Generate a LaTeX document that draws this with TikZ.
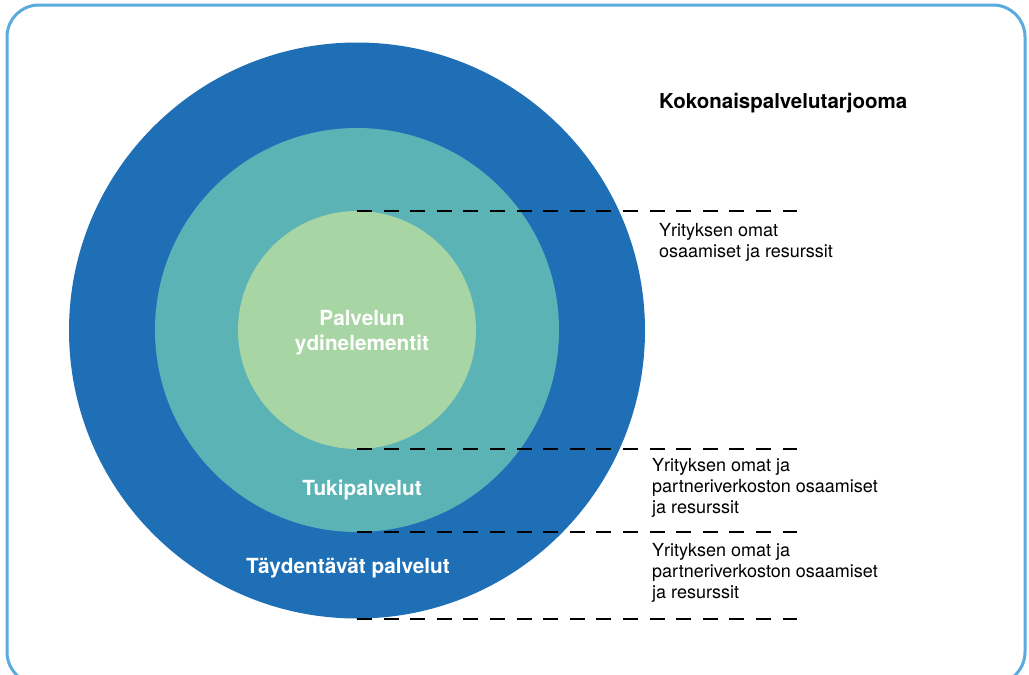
\documentclass[tikz,border=0pt]{standalone}
\usepackage{fontspec}
\setmainfont{TeX Gyre Heros}
\begin{document}
\begin{tikzpicture}[x=1pt,y=-1pt,
  ring/.style={circle,draw=none,inner sep=0pt},
  ringlabel/.style={text=white,font=\bfseries\fontsize{20.8}{25}\selectfont,align=center,anchor=base},
  sidelabel/.style={font=\fontsize{18}{20.6}\selectfont,align=left,anchor=base west,inner sep=0pt},
  guide/.style={black,line width=2.2pt,dash pattern=on 15pt off 11.6pt}]
  \definecolor{outerblue}{RGB}{31,111,182}
  \definecolor{midteal}{RGB}{92,179,182}
  \definecolor{coregreen}{RGB}{167,213,164}
  \definecolor{frameblue}{RGB}{90,172,224}
  \useasboundingbox (0,0) rectangle (1029,675);
  \begin{scope}
    \clip (0,0) rectangle (1029,675);
    \draw[frameblue,line width=3pt,rounded corners=32pt] (7,5) rectangle (1025,684);
  \end{scope}
  % concentric service layers
  \node[ring,fill=outerblue,minimum size=576pt] (outer) at (357,330.5) {};
  \node[ring,fill=midteal,minimum size=404pt] (mid) at (357,330) {};
  \node[ring,fill=coregreen,minimum size=238pt] (core) at (357,330) {};
  % layer names (base anchor sits on the last line)
  \node[ringlabel] (coretext) at (362,350) {Palvelun\\ydinelementit};
  \node[ringlabel] (midtext) at (362,495) {Tukipalvelut};
  \node[ringlabel] (outertext) at (348,573) {Täydentävät palvelut};
  % guide lines out to the right
  \coordinate (e1) at (797,211);
  \coordinate (e2) at (797,449);
  \coordinate (e3) at (797,532);
  \coordinate (e4) at (797,618);
  \draw[guide] (core.north) -- (core.north -| e1);
  \draw[guide] (core.south) -- (core.south -| e2);
  \draw[guide] (mid.south) -- (mid.south -| e3);
  \draw[guide] (outer.south) -- (outer.south -| e4);
  % right-hand descriptions
  \node[sidelabel,font=\bfseries\fontsize{20.5}{24}\selectfont] (title) at (659,108) {Kokonaispalvelutarjooma};
  \node[sidelabel] (own) at (659,257) {Yrityksen omat\\osaamiset ja resurssit};
  \node[sidelabel] (partner1) at (652,513) {Yrityksen omat ja\\partneriverkoston osaamiset\\ja resurssit};
  \node[sidelabel] (partner2) at (652,598) {Yrityksen omat ja\\partneriverkoston osaamiset\\ja resurssit};
\end{tikzpicture}
\end{document}
